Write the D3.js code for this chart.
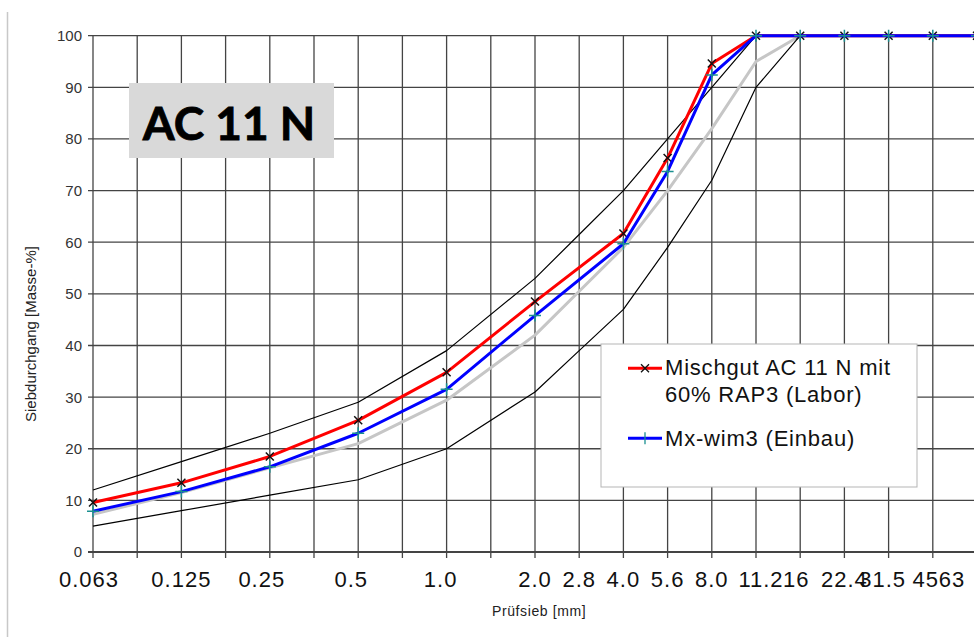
<!DOCTYPE html>
<html>
<head>
<meta charset="utf-8">
<script src="https://cdn.jsdelivr.net/npm/d3@7"></script>
<style>
  body { margin: 0; background: #fff; }
  svg { display: block; }
</style>
</head>
<body>
<main></main>
<script>
// sieve sizes (mm) and their slot on the sieve scale (21 equal slots)
let sieves = ["0.063", "0.125", "0.25", "0.5", "1.0", "2.0", "2.8", "4.0", "5.6", "8.0", "11.2", "16", "22.4", "31.5", "45", "63"]
let sieveSlot = [0, 2, 4, 6, 8, 10, 11, 12, 13, 14, 15, 16, 17, 18, 19, 20]

// grading envelope (upper / lower limits)
let upperLimit = [12, 17.5, 23, 29, 39, 53, 61.5, 70, 80, 90, 100, 100, 100, 100, 100, 100]
let lowerLimit = [5, 8, 11, 14, 20, 31, 39, 47, 59, 72, 90, 100, 100, 100, 100, 100]
// unlabeled grey curve
let greyCurve = [7.3, 11.5, 16.3, 21, 29.4, 42, 50.5, 59, 70, 82, 95, 100, 100, 100, 100, 100]
// measured series (no value at 2.8)
let mischgut = [9.6, 13.4, 18.5, 25.5, 34.8, 48.5, null, 61.7, 76.3, 94.6, 100, 100, 100, 100, 100, 100]
let mxWim3 = [7.9, 11.7, 16.5, 23, 31.5, 45.8, null, 59.7, 73.7, 92.4, 100, 100, 100, 100, 100, 100]

let yTicks = [0, 10, 20, 30, 40, 50, 60, 70, 80, 90, 100]
let legendLabels = [["Mischgut AC 11 N mit", "60% RAP3 (Labor)"], ["Mx-wim3 (Einbau)"]]

let width = 974, height = 637
let svg = d3.select("main")
    .append("svg")
    .attr("width", width)
    .attr("height", height)

let x = d3.scaleLinear().domain([0, 20]).range([93, 977])
let y = d3.scaleLinear().domain([0, 100]).range([552, 35.7])

// page border line on the left
svg.append("line")
    .attr("x1", 7.5).attr("x2", 7.5)
    .attr("y1", 12).attr("y2", height)
    .attr("stroke", "#c8c8c8")
    .attr("stroke-width", 1.5)

// grid
let slots = d3.range(0, 21)
svg.append("g").selectAll("line")
    .data(slots)
    .enter()
    .append("line")
    .attr("x1", d => x(d)).attr("x2", d => x(d))
    .attr("y1", y(100)).attr("y2", y(0) + 6)
    .attr("stroke", "#444")
    .attr("stroke-width", 1.3)

svg.append("g").selectAll("line")
    .data(yTicks)
    .enter()
    .append("line")
    .attr("x1", x(0) - 5).attr("x2", x(20))
    .attr("y1", d => y(d)).attr("y2", d => y(d))
    .attr("stroke", "#444")
    .attr("stroke-width", d => d == 0 ? 2.2 : 1.3)

// y labels
svg.append("g").selectAll("text")
    .data(yTicks)
    .enter()
    .append("text")
    .attr("x", 82)
    .attr("y", d => y(d))
    .attr("dy", "0.36em")
    .attr("text-anchor", "end")
    .attr("font-family", "Liberation Sans, Arial, sans-serif")
    .attr("font-size", 15)
    .attr("fill", "#333")
    .text(d => d)

// x labels (last two squeezed in like the original)
let nudge = { "45": -7, "63": -25, "31.5": -6, "0.25": -8, "0.5": -7, "1.0": -6, "0.063": -4, "11.2": 5, "16": -4 }
svg.append("g").selectAll("text")
    .data(sieves)
    .enter()
    .append("text")
    .attr("x", (d, i) => x(sieveSlot[i]) + (nudge[d] || 0))
    .attr("y", 586.5)
    .attr("text-anchor", "middle")
    .attr("font-family", "Liberation Sans, Arial, sans-serif")
    .attr("font-size", 22)
    .attr("letter-spacing", 1)
    .attr("fill", "#111")
    .text(d => d)

// axis titles
svg.append("text")
    .attr("transform", "translate(36,334) rotate(-90)")
    .attr("text-anchor", "middle")
    .attr("font-family", "Liberation Sans, Arial, sans-serif")
    .attr("font-size", 15)
    .attr("fill", "#222")
    .text("Siebdurchgang [Masse-%]")

svg.append("text")
    .attr("x", 492)
    .attr("y", 616)
    .attr("font-family", "Liberation Sans, Arial, sans-serif")
    .attr("font-size", 14)
    .attr("letter-spacing", 0.6)
    .attr("fill", "#222")
    .text("Prüfsieb [mm]")

// title box
svg.append("rect")
    .attr("x", 129).attr("y", 83)
    .attr("width", 205).attr("height", 75)
    .attr("fill", "#d9d9d9")
svg.append("text")
    .attr("x", 229)
    .attr("y", 140)
    .attr("text-anchor", "middle")
    .attr("font-family", "Lato, Open Sans, sans-serif")
    .attr("font-weight", "bold")
    .attr("font-size", 46)
    .attr("stroke", "#000")
    .attr("stroke-width", 0.8)
    .attr("fill", "#000")
    .text("AC 11 N")

// curves
let toPts = arr => arr.map((v, i) => ({ s: sieveSlot[i], v: v })).filter(d => d.v != null)
let line = d3.line().x(d => x(d.s)).y(d => y(d.v))

let curves = [
    { data: greyCurve, color: "#c6c6c6", w: 3 },
    { data: upperLimit, color: "#000", w: 1.2 },
    { data: lowerLimit, color: "#000", w: 1.2 },
    { data: mischgut, color: "#ff0000", w: 3, marker: "x", mcolor: "#111" },
    { data: mxWim3, color: "#0000ff", w: 3, marker: "+", mcolor: "#1a9090" }
]

curves.forEach(c => {
    let pts = toPts(c.data)
    svg.append("path")
        .attr("d", line(pts))
        .attr("fill", "none")
        .attr("stroke", c.color)
        .attr("stroke-width", c.w)
        .attr("stroke-linejoin", "round")
    if (c.marker) {
        let sym = c.marker == "x" ? "M-4,-4L4,4M-4,4L4,-4" : "M-6,0L6,0M0,-6L0,6"
        svg.append("g").selectAll("path")
            .data(pts)
            .enter()
            .append("path")
            .attr("transform", d => `translate(${x(d.s)},${y(d.v)})`)
            .attr("d", sym)
            .attr("stroke", c.mcolor)
            .attr("stroke-width", 1.5)
    }
})

// legend
let lg = svg.append("g")
lg.append("rect")
    .attr("x", 601).attr("y", 344)
    .attr("width", 316).attr("height", 143)
    .attr("fill", "#fff")
    .attr("stroke", "#b5b5b5")
    .attr("stroke-width", 1)

let legendItems = [
    { color: "#ff0000", sym: "M-4,-4L4,4M-4,4L4,-4", mcolor: "#111", ly: 368.3, ty: 375 },
    { color: "#0000ff", sym: "M0,-6L0,6", mcolor: "#1a9090", ly: 438.3, ty: 446 }
]
legendItems.forEach((it, i) => {
    lg.append("line")
        .attr("x1", 628).attr("x2", 662)
        .attr("y1", it.ly).attr("y2", it.ly)
        .attr("stroke", it.color)
        .attr("stroke-width", 3)
    lg.append("path")
        .attr("transform", `translate(645,${it.ly})`)
        .attr("d", it.sym)
        .attr("stroke", it.mcolor)
        .attr("stroke-width", 1.3)
    let t = lg.append("text")
        .attr("x", 665)
        .attr("y", it.ty)
        .attr("font-family", "Liberation Sans, Arial, sans-serif")
        .attr("font-size", 22)
        .attr("letter-spacing", 0.8)
        .attr("fill", "#111")
    legendLabels[i].forEach((s, k) => {
        t.append("tspan")
            .attr("x", 665)
            .attr("dy", k == 0 ? 0 : 26.5)
            .text(s)
    })
})
</script>
</body>
</html>
